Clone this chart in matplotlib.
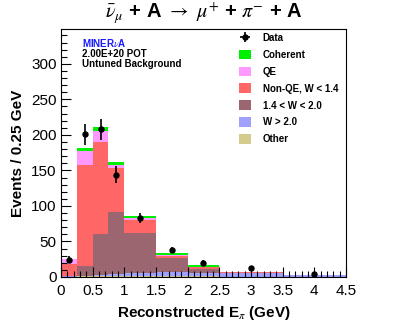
# Stacked MC prediction vs data, reconstructed pion energy

import numpy as np
import matplotlib.pyplot as plt
from matplotlib.ticker import MultipleLocator

plt.rcParams['font.family'] = ['Liberation Sans', 'DejaVu Sans']
plt.rcParams['mathtext.fontset'] = 'stix'

edges = [0, 0.25, 0.5, 0.75, 1.0, 1.5, 2.0, 2.5, 3.5, 4.5]
centers = [0.125, 0.375, 0.625, 0.875, 1.25, 1.75, 2.25, 3.0, 4.0]

# components, bottom to top of the stack (events / 0.25 GeV)
other = [0.5, 1, 1.5, 2, 2, 1.5, 1, 0.5, 0.3]
w_high = [0.5, 1, 1.5, 2, 3, 5.5, 5, 4.5, 2.5]
w_mid = [0.5, 14, 57, 87, 57, 20, 5, 1, 0.2]
nonqe = [16.5, 141, 130, 63, 18, 3, 2.5, 0.5, 0.1]
qe = [7, 21, 16, 4, 3, 1, 0.5, 0.2, 0.0]
coherent = [0.5, 3, 5, 4, 3, 3, 3, 0.8, 0.1]

data = [24, 201, 208, 144, 83, 38, 20, 12, 4.6]
data_err = [5, 15, 15, 12, 7, 4, 3.5, 2, 1.5]

labels = ['Other', 'W > 2.0', '1.4 < W < 2.0', 'Non-QE, W < 1.4', 'QE', 'Coherent']
colors = ['#d4cc8c', '#a0a0ff', '#9c6670', '#ff6666', '#ff99ff', '#00ee00']

fig = plt.figure(figsize=(4.07, 3.28), dpi=100)
ax = fig.add_axes([61/407, 51/328, 285/407, 248/328])

comps = [other, w_high, w_mid, nonqe, qe, coherent]
bottom = np.zeros(len(centers))
handles = {}
for vals, lab, col in zip(comps, labels, colors):
    top = bottom + np.array(vals)
    h = ax.stairs(top, edges, baseline=bottom, fill=True, color=col, lw=0)
    handles[lab] = h
    bottom = top

ax.errorbar(centers, data, yerr=data_err, fmt='o', color='black',
            ms=3.6, elinewidth=1.2, capsize=0)
dh = ax.errorbar([np.nan], [np.nan], xerr=[1], yerr=[1], fmt='o',
                 color='black', ms=3.6, elinewidth=1.2, capsize=0)

order = ['Coherent', 'QE', 'Non-QE, W < 1.4', '1.4 < W < 2.0', 'W > 2.0', 'Other']
ax.legend([dh] + [handles[k] for k in order], ['Data'] + order,
          loc='upper left', bbox_to_anchor=(0.6246, 0.985), borderaxespad=0,
          borderpad=0, frameon=False, prop={'size': 7, 'weight': 'bold'},
          handlelength=1.23, handleheight=1.15, labelspacing=0.7,
          handletextpad=1.2)

ax.text(0.073, 0.945, r'MINER$\nu$A', transform=ax.transAxes, color='#1a1aff',
        fontsize=7, fontweight='bold', va='center')
ax.text(0.073, 0.9, '2.00E+20 POT', transform=ax.transAxes,
        fontsize=7, fontweight='bold', va='center')
ax.text(0.073, 0.857, 'Untuned Background', transform=ax.transAxes,
        fontsize=7, fontweight='bold', va='center')

ax.set_xlim(0, 4.5)
ax.set_ylim(0, 349)
ax.xaxis.set_major_locator(MultipleLocator(0.5))
ax.xaxis.set_minor_locator(MultipleLocator(0.1))
ax.yaxis.set_major_locator(MultipleLocator(50))
ax.yaxis.set_minor_locator(MultipleLocator(10))
ax.tick_params(which='both', direction='in', top=False, right=False,
               labelsize=11, width=0.8)
ax.tick_params(which='major', length=7)
ax.tick_params(which='minor', length=4)
ax.tick_params(axis='x', pad=5)
ax.tick_params(axis='y', pad=3)
ax.xaxis.set_major_formatter(plt.FuncFormatter(lambda v, p: f'{v:g}'))

ax.set_xlabel(r'Reconstructed E$_{\pi}$ (GeV)', fontsize=11, fontweight='bold')
ax.set_ylabel('Events / 0.25 GeV', fontsize=11, fontweight='bold')
ax.xaxis.set_label_coords(0.5, -0.11)
ax.yaxis.set_label_coords(-0.125, 0.5)

fig.text(0.5, 1 - 13/328,
         r'$\bar{\nu}_{\mu}$ + A $\rightarrow$ $\mu^{+}$ + $\pi^{-}$ + A',
         ha='center', va='center', fontsize=14.5, fontweight='bold')

fig.savefig('out.png', dpi=100)
